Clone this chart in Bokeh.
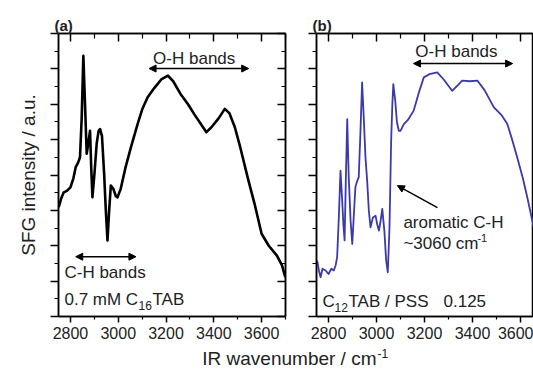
from bokeh.plotting import figure
from bokeh.models import FixedTicker, LinearAxis, Label, Arrow, NormalHead
from bokeh.layouts import column, row
from bokeh.embed import file_html
from bokeh.resources import INLINE

# ---- data ----
wn_a = [2751, 2762, 2772, 2785, 2800, 2812, 2822, 2832, 2840, 2847, 2854, 2860,
        2868, 2875, 2882, 2887, 2892, 2900, 2910, 2918, 2924, 2932, 2941, 2948,
        2955, 2962, 2969, 2980, 2990, 2997, 3010, 3030, 3053, 3081, 3100, 3123,
        3150, 3180, 3208, 3230, 3260, 3292, 3320, 3350, 3369, 3390, 3420, 3446,
        3465, 3488, 3510, 3545, 3570, 3600, 3630, 3664, 3685, 3699]
sfg_a = [3.09, 3.35, 3.51, 3.55, 3.65, 3.9, 4.22, 4.35, 4.5, 5.6, 7.37, 6.2,
         4.6, 4.9, 5.25, 4.2, 3.37, 4.0, 4.9, 5.25, 5.3, 5.1, 4.03, 3.0,
         2.15, 3.0, 3.7, 3.6, 3.4, 3.37, 3.6, 4.2, 4.78, 5.44, 5.85, 6.2,
         6.45, 6.7, 6.81, 6.65, 6.3, 6.0, 5.7, 5.4, 5.21, 5.35, 5.6, 5.87,
         5.75, 5.35, 4.8, 3.84, 3.2, 2.34, 2.0, 1.72, 1.45, 1.11]

wn_b = [2753, 2760, 2767, 2775, 2788, 2800, 2812, 2822, 2830, 2836, 2843, 2850,
        2857, 2862, 2867, 2872, 2878, 2884, 2892, 2899, 2905, 2912, 2918, 2926,
        2933, 2940, 2947, 2954, 2961, 2968, 2975, 2985, 2996, 3003, 3010, 3017,
        3024, 3033, 3040, 3047, 3054, 3061, 3066, 3070, 3078, 3085, 3093, 3100,
        3114, 3130, 3155, 3175, 3197, 3220, 3253, 3280, 3315, 3340, 3357, 3390,
        3420, 3450, 3489, 3520, 3545, 3565, 3586, 3610, 3628, 3655]
sfg_b = [1.58, 1.3, 1.11, 1.35, 1.3, 1.2, 1.35, 1.3, 1.45, 1.68, 2.8, 4.12,
         3.28, 2.6, 2.15, 3.8, 5.58, 4.0, 2.71, 2.05, 2.8, 3.65, 3.8, 3.94,
         5.2, 6.62, 5.6, 4.5, 3.84, 3.0, 2.52, 2.8, 2.85, 2.6, 2.43, 2.7,
         3.04, 2.4, 1.6, 1.25, 2.5, 4.97, 6.0, 6.57, 6.1, 5.5, 5.25, 5.25,
         5.44, 5.55, 5.82, 6.3, 6.76, 6.85, 6.9, 6.7, 6.38, 6.55, 6.67, 6.65,
         6.67, 6.4, 5.91, 5.7, 5.44, 5.0, 4.5, 3.9, 3.37, 2.52]

x_major = [2800, 3000, 3200, 3400, 3600]
x_minor = [2700, 2900, 3100, 3300, 3500, 3700]
y_major = [0, 1, 2, 3, 4, 5, 6, 7, 8]
y_minor = [0.5, 1.5, 2.5, 3.5, 4.5, 5.5, 6.5, 7.5]

FONT = "Liberation Sans"
TXT = "#222222"


def style_axis(ax, tin, tout, min_in, min_out, labels=False):
    ax.major_tick_in = tin
    ax.major_tick_out = tout
    ax.minor_tick_in = min_in
    ax.minor_tick_out = min_out
    ax.axis_line_width = 1.5
    ax.major_tick_line_width = 1.5
    ax.minor_tick_line_width = 1.2
    ax.axis_line_color = "black"
    if labels:
        ax.major_label_text_font = FONT
        ax.major_label_text_font_size = "16px"
        ax.major_label_text_color = TXT
        ax.major_label_standoff = 4
    else:
        ax.major_label_text_font_size = "1px"
        ax.major_label_text_color = None
        ax.major_label_standoff = 0


def make_panel(xr, width, mb_left, mb_right, tag):
    p = figure(width=width, height=345, x_range=xr, y_range=(0, 8),
               min_border_left=mb_left, min_border_right=mb_right,
               min_border_top=33, min_border_bottom=29,
               toolbar_location=None, output_backend="svg")
    p.grid.visible = False
    p.outline_line_color = "black"
    p.outline_line_width = 1.5
    p.title.text = tag
    p.title.align = "left"
    p.title.offset = -4
    p.title.text_font = FONT
    p.title.text_font_size = "15px"
    p.title.text_font_style = "bold"
    p.title.text_color = TXT
    p.title.standoff = 0
    xt = FixedTicker(ticks=x_major, minor_ticks=x_minor)
    yt = FixedTicker(ticks=y_major, minor_ticks=y_minor)
    p.xaxis.ticker = xt
    p.yaxis.ticker = yt
    style_axis(p.xaxis[0], 0, 6, 0, 3, labels=True)
    style_axis(p.yaxis[0], 0, 8, 0, 4)
    top = LinearAxis(ticker=FixedTicker(ticks=x_major, minor_ticks=x_minor))
    style_axis(top, 8, 0, 5, 0)
    p.add_layout(top, "above")
    return p


def txt(p, x, y, s, size="17px", align="left", baseline="middle",
        xo=0, yo=0):
    p.add_layout(Label(x=x, y=y, text=s, x_offset=xo, y_offset=yo,
                       text_font=FONT, text_font_size=size,
                       text_color=TXT, text_align=align,
                       text_baseline=baseline))


def darrow(p, x0, x1, y):
    p.add_layout(Arrow(x_start=x0, y_start=y, x_end=x1, y_end=y,
                       line_width=1.5, line_color="black",
                       start=NormalHead(size=7, fill_color="black", line_color="black"),
                       end=NormalHead(size=7, fill_color="black", line_color="black")))


# ---- panel (a) ----
pa = make_panel((2750, 3700), 295, 58, 10, "(a)")
pa.yaxis.axis_label = "SFG intensity / a.u."
pa.yaxis.axis_label_text_font = FONT
pa.yaxis.axis_label_text_font_size = "19px"
pa.yaxis.axis_label_text_font_style = "normal"
pa.yaxis.axis_label_text_color = TXT
pa.yaxis.axis_label_standoff = 12
right = LinearAxis(ticker=FixedTicker(ticks=y_major, minor_ticks=y_minor))
style_axis(right, 8, 0, 4, 0)
pa.add_layout(right, "right")
pa.line(wn_a, sfg_a, line_color="black", line_width=2.6, line_join="round")

txt(pa, 3318, 7.3, "O-H bands", align="center")
darrow(pa, 3129, 3546, 7.01)
txt(pa, 2775, 1.24, "C-H bands")
darrow(pa, 2822, 3074, 1.69)
txt(pa, 2775, 0.48, "0.7 mM C")
txt(pa, 2775, 0.48, "16", size="12px", xo=74, yo=-6)
txt(pa, 2775, 0.48, "TAB", xo=88)

# ---- panel (b) ----
pb = make_panel((2750, 3654), 238, 21, 0, "(b)")
pb.line(wn_b, sfg_b, line_color="#3a3aaa", line_width=1.8, line_join="round")

txt(pb, 3333, 7.5, "O-H bands", align="center")
darrow(pb, 3154, 3567, 7.15)
txt(pb, 3112, 2.66, "aromatic C-H")
txt(pb, 3112, 2.06, "~3060 cm")
txt(pb, 3112, 2.06, "-1", size="11px", xo=74, yo=6)
pb.add_layout(Arrow(x_start=3254, y_start=3.08, x_end=3087, y_end=3.7,
                    line_width=1.5, line_color="black",
                    end=NormalHead(size=7, fill_color="black", line_color="black")))
txt(pb, 2775, 0.43, "C")
txt(pb, 2775, 0.43, "12", size="12px", xo=12, yo=-6)
txt(pb, 2775, 0.43, "TAB / PSS", xo=26)
txt(pb, 2775, 0.43, "0.125", xo=121)

# ---- shared x label ----
pl = figure(width=533, height=26, x_range=(0, 533), y_range=(0, 26),
            min_border=0, x_axis_location=None, y_axis_location=None,
            toolbar_location=None, output_backend="svg")
pl.grid.visible = False
pl.outline_line_color = None
txt(pl, 376, 13, "IR wavenumber / cm", size="19px", align="right",
    baseline="middle")
txt(pl, 377, 18, "-1", size="12px", baseline="middle")

layout = column(row(pa, pb), pl, spacing=0)
open("out.html", "w").write(file_html(layout, INLINE))
